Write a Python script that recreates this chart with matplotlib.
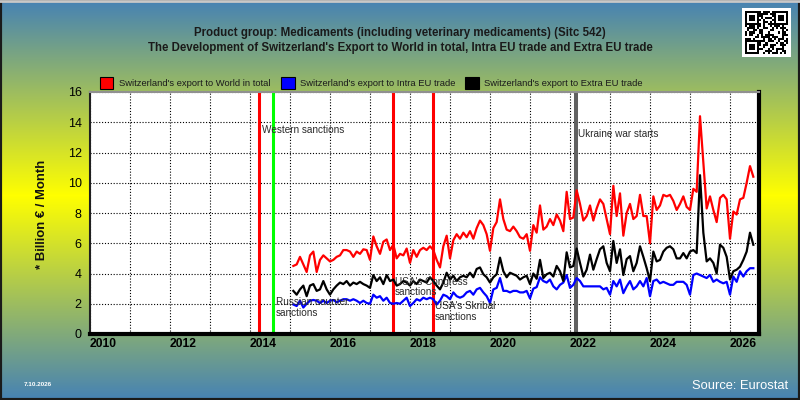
import numpy as np
import matplotlib.pyplot as plt
from matplotlib import font_manager
from matplotlib.patches import Rectangle
from matplotlib.lines import Line2D


def have_font(name):
    try:
        font_manager.findfont(font_manager.FontProperties(family=name), fallback_to_default=False)
        return True
    except ValueError:
        return False


NARROW = 'Liberation Sans Narrow' if have_font('Liberation Sans Narrow') else 'Liberation Sans'
NS = 1.0 if NARROW == 'Liberation Sans Narrow' else 0.84   # shrink if no narrow face
plt.rcParams['font.family'] = ['Liberation Sans', 'DejaVu Sans']

# ---- data (monthly, Jan 2015 onwards), billion EUR / month ----
start_year, start_month = 2015, 1

world_total = [4.5, 4.6, 5.1, 4.6, 4.1, 5.2, 5.45, 4.1, 4.9, 5.2,
               5.0, 4.8, 4.9, 5.1, 5.2, 5.55, 5.55, 5.45, 5.1, 5.45,
               5.3, 5.6, 5.55, 4.9, 6.45, 5.8, 5.3, 6.1, 6.25, 5.55,
               5.9, 5.0, 5.3, 5.2, 5.65, 4.7, 5.55, 5.1, 5.55, 5.7,
               5.55, 5.8, 5.55, 4.9, 4.4, 5.8, 6.5, 5.0, 6.2, 6.6,
               6.3, 6.7, 6.4, 6.8, 6.3, 7.0, 7.5, 7.2, 6.6, 5.5,
               7.0, 7.4, 8.9, 7.6, 6.9, 6.8, 7.1, 6.8, 6.4, 6.3,
               6.6, 5.5, 7.2, 6.7, 8.5, 6.9, 7.1, 7.6, 7.2, 7.9,
               7.5, 6.8, 9.4, 7.6, 7.7, 9.5, 8.6, 7.5, 7.8, 8.5,
               7.5, 8.3, 8.9, 8.6, 7.6, 6.6, 9.8, 7.8, 9.3, 6.5,
               8.0, 8.6, 7.6, 7.8, 9.2, 7.8, 7.8, 6.0, 9.1, 8.2,
               8.5, 9.2, 9.1, 9.2, 8.8, 8.2, 8.6, 9.1, 8.4, 8.2,
               9.6, 9.4, 14.4, 11.3, 8.3, 9.1, 8.2, 7.4, 9.0, 9.2,
               8.9, 6.3, 8.1, 7.9, 8.9, 9.0, 10.0, 11.1, 10.4]

intra_eu = [1.95, 1.85, 2.2, 1.75, 2.0, 2.2, 2.25, 2.2, 2.05, 2.2,
            2.05, 2.2, 2.25, 2.1, 2.2, 2.3, 2.3, 2.2, 2.3, 2.2,
            2.05, 2.2, 2.05, 2.0, 2.6, 2.4, 2.5, 2.2, 2.4, 2.05,
            2.0, 2.05, 2.0, 2.2, 2.4, 1.85, 2.05, 2.3, 2.2, 2.4,
            2.3, 2.4, 2.3, 1.95, 2.2, 2.6, 2.5, 2.3, 2.75, 2.5,
            2.4, 2.5, 2.75, 2.85, 2.6, 2.95, 3.05, 2.75, 2.5, 2.05,
            2.95, 3.05, 3.7, 2.85, 2.85, 2.75, 2.85, 2.85, 2.75, 2.75,
            2.85, 2.35, 3.0, 3.1, 3.75, 3.5, 3.4, 3.6, 3.15, 2.95,
            3.25, 3.4, 3.9, 3.05, 3.25, 3.7, 3.5, 3.15, 3.15, 3.15,
            3.15, 3.15, 3.15, 2.95, 3.05, 2.6, 3.5, 3.15, 3.6, 2.7,
            3.15, 3.5, 2.95, 3.15, 3.5, 3.15, 3.7, 2.5, 3.5, 3.6,
            3.35, 3.45, 3.35, 3.25, 3.25, 3.45, 3.45, 3.45, 3.25, 2.6,
            3.9, 4.0, 3.9, 3.8, 3.7, 3.9, 3.45, 3.6, 3.45, 3.35,
            3.45, 2.6, 3.8, 3.45, 4.15, 3.8, 4.15, 4.35, 4.35]

extra_eu = [2.85, 2.6, 2.95, 3.2, 2.5, 3.2, 3.3, 2.85, 2.95, 3.5,
            2.95, 2.6, 2.95, 3.2, 3.4, 3.3, 3.5, 3.2, 3.4, 3.3,
            3.45, 3.3, 3.2, 3.05, 3.9, 3.5, 3.75, 3.3, 3.9, 3.5,
            3.6, 3.2, 3.3, 3.5, 3.4, 3.2, 3.5, 3.3, 3.6, 3.5,
            3.4, 3.75, 3.5, 3.2, 2.95, 3.4, 4.05, 3.6, 3.85, 3.5,
            3.75, 3.85, 3.75, 4.05, 3.75, 4.3, 4.4, 3.95, 3.75, 3.4,
            3.75, 3.95, 5.05, 4.15, 3.75, 4.05, 3.95, 3.85, 3.6, 3.75,
            3.85, 3.3, 4.0, 3.65, 4.9, 3.7, 3.95, 4.05, 3.8, 4.5,
            4.15, 3.5, 5.4, 4.4, 4.5, 5.65, 4.7, 3.8, 4.25, 5.25,
            4.25, 4.95, 5.6, 5.8, 4.7, 4.15, 6.15, 4.7, 5.6, 3.9,
            4.95, 5.15, 4.15, 4.7, 5.8, 5.1, 4.35, 3.5, 5.45, 4.8,
            4.9, 5.45, 5.7, 5.8, 5.6, 5.0, 5.0, 5.35, 5.0, 5.45,
            5.55, 5.35, 10.5, 6.7, 4.8, 5.0, 4.7, 4.0, 5.9, 5.7,
            5.1, 3.6, 4.15, 4.25, 4.45, 4.9, 5.45, 6.7, 5.9]

series_names = ["Switzerland's export to World in total",
                "Switzerland's export to Intra EU trade",
                "Switzerland's export to Extra EU trade"]
series_colors = ['#ff0000', '#0000ff', '#000000']

event_dates = [2014.23, 2014.58, 2017.57, 2018.57, 2022.14]
event_colors = ['#ff0000', '#00ff00', '#ff0000', '#ff0000', '#606060']
event_labels = ['Western sanctions', 'Russian counter\nsanctions', "USA's Congress\nsanctions",
                "USA's Skribal\nsanctions", 'Ukraine war starts']
event_label_y = [13.5, 1.75, 3.1, 1.5, 13.2]

year_ticks = list(range(2010, 2027))
y_ticks = list(range(0, 17, 2))

n = len(world_total)
t = start_year + (start_month - 1 + np.arange(1, n + 1)) / 12.0

W, H = 800, 400
fig = plt.figure(figsize=(8, 4), dpi=100)

# gradient background: steel blue -> yellow -> steel blue
rows = np.arange(H)
stops = [0, 195, H - 1]
cols = np.array([[70, 130, 180], [255, 255, 0], [70, 130, 180]]) / 255.0
grad = np.stack([np.interp(rows, stops, cols[:, k]) for k in range(3)], axis=1)
grad = np.repeat(grad[:, None, :], 4, axis=1)
bg = fig.add_axes([0, 0, 1, 1], zorder=-10)
bg.imshow(grad, aspect='auto', extent=[0, 1, 0, 1])
bg.axis('off')

ax = fig.add_axes([90 / W, 66 / H, 669 / W, 242 / H])
ax.set_facecolor('white')

for d, c in zip(event_dates, event_colors):
    ax.axvline(d, color=c, lw=2.9 if c == '#606060' else 2.2, zorder=2)

ax.plot(t, world_total, color=series_colors[0], lw=1.6, zorder=3)
ax.plot(t, intra_eu, color=series_colors[1], lw=1.6, zorder=3)
ax.plot(t, extra_eu, color=series_colors[2], lw=1.6, zorder=3)

for d, lab, yy in zip(event_dates, event_labels, event_label_y):
    ax.text(d + 0.06, yy, lab, fontsize=7.2, color='#2a2a2a', va='center', ha='left',
            linespacing=1.05, zorder=4)

ax.set_xlim(2010, 2026.725)
ax.set_ylim(0, 16)
ax.set_xticks(year_ticks)
ax.set_xticklabels([str(y) if y % 2 == 0 else '' for y in year_ticks],
                   fontsize=8.7, fontweight='bold', ha='left')
ax.set_yticks(y_ticks)
ax.set_yticklabels([str(v) for v in y_ticks], fontsize=9)
ax.tick_params(length=0)
ax.tick_params(axis='x', pad=3)
ax.tick_params(axis='y', pad=6)
ax.grid(True, color='black', linestyle=(0, (1, 1.6)), lw=0.8)
ax.set_axisbelow(True)

ax.spines['top'].set_color('#909090')
ax.spines['top'].set_linewidth(1.5)
ax.spines['left'].set_color('#202020')
ax.spines['left'].set_linewidth(1.5)
ax.spines['bottom'].set_linewidth(3)
ax.spines['right'].set_linewidth(3)

# titles
fig.text(0.5, 1 - 33 / H, 'Product group: Medicaments (including veterinary medicaments) (Sitc 542)',
         ha='center', va='center', fontsize=9.9 * NS, fontweight='bold', family=NARROW, color='#1a1a1a')
fig.text(0.5, 1 - 48 / H, "The Development of Switzerland's Export to World in total, Intra EU trade and Extra EU trade",
         ha='center', va='center', fontsize=9.9 * NS, fontweight='bold', family=NARROW, color='#1a1a1a')

# legend row
leg_x = [99.5, 281, 465]
for lx, name, c in zip(leg_x, series_names, series_colors):
    fig.patches.append(Rectangle((lx / W, 1 - 89 / H), 13.5 / W, 12 / H, transform=fig.transFigure,
                                 facecolor=c, edgecolor='black', lw=0.8))
    fig.text((lx + 19.5) / W, 1 - 83 / H, name, ha='left', va='center',
             fontsize=8.0 * NS, family=NARROW, color='#1a1a1a')

fig.text(42 / W, 1 - 214 / H, '* Billion \u20ac / Month', rotation=90, ha='center', va='center',
         fontsize=11.3 * NS, fontweight='bold', family=NARROW, color='#111111')

fig.text(24 / W, 1 - 384 / H, '7.10.2026', ha='left', va='center', fontsize=5.5 * NS,
         fontweight='bold', family=NARROW, color='white')
fig.text(788 / W, 1 - 386 / H, 'Source: Eurostat', ha='right', va='center', fontsize=11 * NS,
         family=NARROW, color='white')

# QR-like badge (decorative)
qr = np.zeros((21, 21))
bits = np.unpackbits(np.frombuffer(b'eurostat-sitc542-switzerland-export-world-intra-extra', dtype=np.uint8))
qr.flat[:] = bits[:441]
for r0, c0 in [(0, 0), (0, 14), (14, 0)]:
    qr[r0:r0 + 7, c0:c0 + 7] = 1
    qr[r0 + 1:r0 + 6, c0 + 1:c0 + 6] = 0
    qr[r0 + 2:r0 + 5, c0 + 2:c0 + 5] = 1
qax = fig.add_axes([742 / W, 1 - 57 / H, 49 / W, 49 / H])
qax.set_facecolor('white')
qax.imshow(qr, cmap='gray_r', extent=[0.07, 0.93, 0.07, 0.93], interpolation='nearest')
qax.set_xlim(0, 1)
qax.set_ylim(0, 1)
qax.set_xticks([])
qax.set_yticks([])
for s in qax.spines.values():
    s.set_visible(False)

# outer frame
fig.patches.append(Rectangle((0, 0), 1, 1, transform=fig.transFigure, fill=False,
                             edgecolor='#1a1a1a', lw=3))
fig.lines.append(Line2D([0, 1], [1 - 1 / H, 1 - 1 / H], transform=fig.transFigure,
                        color='#c8c8c8', lw=2))

fig.savefig('out.png', dpi=100)
